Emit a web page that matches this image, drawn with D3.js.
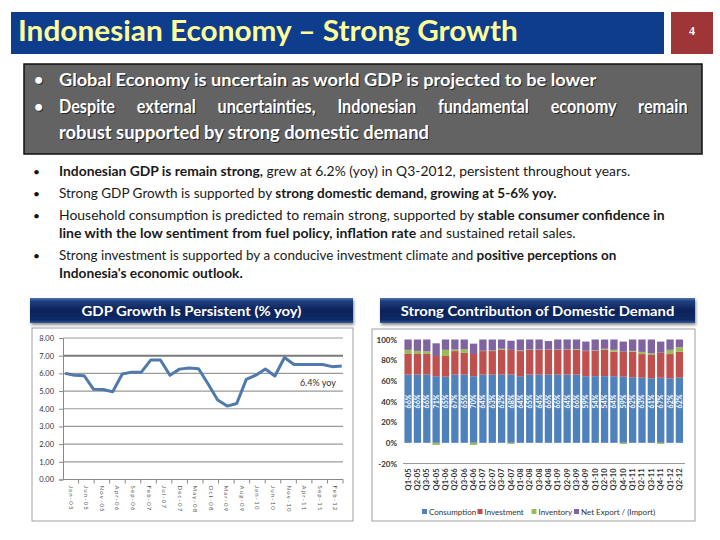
<!DOCTYPE html>
<html><head><meta charset="utf-8">
<script src="https://cdn.jsdelivr.net/npm/d3@7"></script>
<style>html,body{margin:0;padding:0;background:#fff;} svg{display:block;}</style>
</head><body>
<svg id="c" width="720" height="540"></svg>
<script>
// ---------------- DATA ----------------
const quarters = ["Q1-05","Q2-05","Q3-05","Q4-05","Q1-06","Q2-06","Q3-06","Q4-06","Q1-07","Q2-07","Q3-07","Q4-07",
  "Q1-08","Q2-08","Q3-08","Q4-08","Q1-09","Q2-09","Q3-09","Q4-09","Q1-10","Q2-10","Q3-10","Q4-10",
  "Q1-11","Q2-11","Q3-11","Q4-11","Q1-12","Q2-12"];
const gdpGrowth = [6.00,5.89,5.87,5.10,5.09,4.96,5.96,6.07,6.07,6.76,6.76,5.89,6.24,6.30,6.26,5.40,
  4.50,4.15,4.30,5.66,5.90,6.25,5.85,6.90,6.50,6.50,6.50,6.50,6.38,6.42];
const lineTickLabels = ["Jan-05","Jun-05","Nov-05","Apr-06","Sep-06","Feb-07","Jul-07","Dec-07","May-08",
  "Oct-08","Mar-09","Aug-09","Jan-10","Jun-10","Nov-10","Apr-11","Sep-11","Feb-12"];
const gdpTicks = [0,1,2,3,4,5,6,7,8];

const consumption = [66,66,66,64.5,64,66,66,64.5,66,66,66,66,64.5,66,66,66,66,66,66,64.5,64.5,64.5,64.5,64,63.5,63,62.5,63,62.5,63];
const investment  = [20,20,20,19.5,20,22.8,21,21.5,22.8,22.8,24,24,24.3,24,24,24,24,24,24,24.3,24.7,25.5,23.7,24.2,24.7,22.9,22.5,24.2,23.4,25.2];
const inventory   = [4,3,2.5,-2,6,1.5,3.5,-2,0.3,0.5,1,-1,0.7,0.3,0.3,0.2,0.3,0.3,0.8,0.3,0.3,1,1.8,-1,0.8,2.1,1.6,-1,4.1,4.3];
const netExport   = [10,11,11.5,12.3,10,9.7,9.5,10,10.9,10.7,9,8.8,10.5,9.7,9.7,8.3,9.7,9.7,9.2,8.9,10.5,9,10,9.8,11,12,13.4,10.8,10,7.5];
const barLabels = ["66%","66%","66%","71%","65%","67%","65%","70%","64%","63%","62%","68%","64%","65%","64%","66%",
  "66%","64%","66%","59%","54%","54%","64%","59%","62%","63%","61%","67%","62%","62%"];
const shareTicks = [-20,0,20,40,60,80,100];
const seriesNames = ["Consumption","Investment","Inventory","Net Export / (Import)"];
const seriesColors = ["#4F81BD","#C0504D","#9BBB59","#8064A2"];

const FONT = "Lato, 'Open Sans', sans-serif";
const svg = d3.select("#c");
const defs = svg.append("defs");

function fit(sel, x, target){
  const w = sel.node().getComputedTextLength();
  sel.attr("transform", `translate(${x},0) scale(${target/w},1) translate(${-x},0)`);
}
function fitCenter(sel, cx, target){
  const w = sel.node().getComputedTextLength();
  sel.attr("transform", `translate(${cx},0) scale(${target/w},1) translate(${-cx},0)`);
}

// ---------------- HEADER ----------------
svg.append("rect").attr("x",11).attr("y",12).attr("width",653).attr("height",42).attr("fill","#0E3D8E");
svg.append("rect").attr("x",671).attr("y",12).attr("width",42).attr("height",42).attr("fill","#9E3537");
svg.append("text").attr("x",692).attr("y",35).attr("text-anchor","middle").attr("font-family","'Liberation Serif', serif")
  .attr("font-size",12).attr("font-weight","bold").attr("fill","#fff").text("4");
const title = svg.append("text").attr("x",18).attr("y",41).attr("font-family",FONT).attr("font-size",28)
  .attr("font-weight","bold").attr("fill","#FFFF99").text("Indonesian Economy \u2013 Strong Growth");
fit(title,18,500);

// grey box
svg.append("rect").attr("x",24).attr("y",64).attr("width",678).attr("height",90).attr("fill","#636363")
  .attr("stroke","#111").attr("stroke-width",1.5);
const greyLines = [
  {b:true,  y:86,  t:"Global Economy is uncertain as world GDP is projected to be lower", w:538},
  {b:true,  y:113, t:"Despite external uncertainties, Indonesian fundamental economy remain", w:629, justify:true},
  {b:false, y:139, t:"robust supported by strong domestic demand", w:370}
];
greyLines.forEach(l=>{
  [["#2a2a2a",1],["#fff",0]].forEach(([col,off])=>{
    if(l.b) svg.append("text").attr("x",34+off).attr("y",l.y+off-1).attr("font-family",FONT).attr("font-size",16)
      .attr("font-weight","bold").attr("fill",col).text("\u2022");
    const t = svg.append("text").attr("x",59+off).attr("y",l.y+off).attr("font-family",FONT).attr("font-size",18)
      .attr("font-weight","bold").attr("fill",col).text(l.t);
    if(l.justify){
      const w = t.node().getComputedTextLength();
      const spaces = l.t.split(" ").length-1;
      // keep glyphs a bit condensed, spread words
      t.attr("transform",`translate(${59+off},0) scale(0.9,1) translate(${-(59+off)},0)`);
      t.attr("word-spacing", ((l.w/0.9) - w)/spaces);
    } else fit(t,59+off,l.w);
  });
});

// bullet list
const bullets = [
  {y:176, dot:true, w:572, parts:[["Indonesian GDP is remain strong,",1],[" grew at 6.2% (yoy) in Q3-2012, persistent throughout years.",0]]},
  {y:198, dot:true, w:498, parts:[["Strong GDP Growth is supported by ",0],["strong domestic demand, growing at 5-6% yoy.",1]]},
  {y:220, dot:true, w:606, parts:[["Household consumption is predicted to remain strong, supported by ",0],["stable consumer confidence in",1]]},
  {y:238, dot:false, w:517, parts:[["line with the low sentiment from fuel policy, inflation rate",1],[" and sustained retail sales.",0]]},
  {y:260, dot:true, w:558, parts:[["Strong investment is supported by a conducive investment climate and ",0],["positive perceptions on",1]]},
  {y:278, dot:false, w:184, parts:[["Indonesia's economic outlook.",1]]}
];
bullets.forEach(b=>{
  if(b.dot) svg.append("text").attr("x",33).attr("y",b.y).attr("font-family",FONT).attr("font-size",12).attr("fill","#111").text("\u2022");
  const t = svg.append("text").attr("x",59).attr("y",b.y).attr("font-family",FONT).attr("font-size",12.5).attr("fill","#1a1a1a");
  b.parts.forEach(p=>t.append("tspan").attr("font-weight",p[1]?"bold":"normal").text(p[0]));
  fit(t,59,b.w);
});

// ---------------- BANNERS ----------------
const g = defs.append("linearGradient").attr("id","ban").attr("x1",0).attr("y1",0).attr("x2",0).attr("y2",1);
[["0%","#5575b0"],["12%","#203f80"],["50%","#0b2259"],["88%","#102b68"],["100%","#3a5a98"]].forEach(s=>
  g.append("stop").attr("offset",s[0]).attr("stop-color",s[1]));
const sh = defs.append("filter").attr("id","sh").attr("x","-5%").attr("y","-20%").attr("width","110%").attr("height","160%");
sh.append("feDropShadow").attr("dx",1).attr("dy",2).attr("stdDeviation",1.5).attr("flood-color","#000").attr("flood-opacity",0.45);

function banner(x,w,text,tw){
  svg.append("rect").attr("x",x).attr("y",298).attr("width",w).attr("height",25).attr("fill","url(#ban)").attr("filter","url(#sh)");
  const cx = x+w/2;
  const t = svg.append("text").attr("x",cx).attr("y",316).attr("text-anchor","middle").attr("font-family",FONT)
    .attr("font-size",13).attr("font-weight","bold").attr("fill","#fff").text(text);
  fitCenter(t,cx,tw);
}
banner(30,323,"GDP Growth Is Persistent (% yoy)",220);
banner(380,315,"Strong Contribution of Domestic Demand",274);

// frames
svg.append("rect").attr("x",32).attr("y",328).attr("width",321).attr("height",193).attr("fill","#fff").attr("stroke","#a0a0a0");
svg.append("rect").attr("x",372).attr("y",329).attr("width",323).attr("height",192).attr("fill","#fff").attr("stroke","#a0a0a0");

// ---------------- LINE CHART ----------------
const xL = d3.scalePoint().domain(quarters).range([65,341.7]);
const yL = d3.scaleLinear().domain([0,8]).range([479.5,338]);
const gl = svg.append("g");
gl.selectAll("line.grid").data(gdpTicks.filter(d=>d>0)).join("line")
  .attr("x1",63).attr("x2",343).attr("y1",d=>yL(d)).attr("y2",d=>yL(d))
  .attr("stroke",d=>d===7?"#7a7a7a":"#9a9a9a").attr("stroke-width",d=>d===7?2:1.2);
const yAx = gl.append("g").attr("transform","translate(63,0)")
  .call(d3.axisLeft(yL).tickValues(gdpTicks).tickFormat(d3.format(".2f")).tickSize(4).tickPadding(5));
yAx.select(".domain").attr("stroke","#888");
yAx.selectAll(".tick line").attr("stroke","#888");
yAx.selectAll("text").attr("font-family",FONT).attr("font-size",7.5).attr("fill","#333");
// x axis
const xLab = d3.scaleBand().domain(lineTickLabels).range([63,343]);
gl.append("line").attr("x1",63).attr("x2",343).attr("y1",yL(0)).attr("y2",yL(0)).attr("stroke","#888");
gl.selectAll("line.xt").data(lineTickLabels).join("line").attr("class","xt")
  .attr("x1",d=>xLab(d)+xLab.bandwidth()).attr("x2",d=>xLab(d)+xLab.bandwidth())
  .attr("y1",yL(0)).attr("y2",yL(0)+4).attr("stroke","#888");
gl.selectAll("text.xl").data(lineTickLabels).join("text").attr("class","xl")
  .attr("transform",d=>`translate(${xLab(d)+xLab.bandwidth()/2-2},${yL(0)+6}) rotate(90)`)
  .attr("font-family",FONT).attr("font-size",6).attr("letter-spacing",1.2).attr("fill","#555").text(d=>d);
gl.append("path").datum(gdpGrowth).attr("fill","none").attr("stroke","#5079AC").attr("stroke-width",3)
  .attr("stroke-linejoin","round")
  .attr("d",d3.line().x((d,i)=>xL(quarters[i])).y(d=>yL(d)));
gl.append("text").attr("x",300).attr("y",386).attr("font-family",FONT).attr("font-size",9).attr("fill","#333").text("6.4% yoy");

// ---------------- STACKED BAR ----------------
const rows = quarters.map((q,i)=>({q, Consumption:consumption[i], Investment:investment[i], Inventory:inventory[i], "Net Export / (Import)":netExport[i]}));
const stack = d3.stack().keys(seriesNames).offset(d3.stackOffsetDiverging)(rows);
const xB = d3.scaleBand().domain(quarters).range([403.5,684]).paddingInner(0.22).paddingOuter(0.1);
const yB = d3.scaleLinear().domain([-20,100]).range([463.5,339.5]);
const gb = svg.append("g");
const yAxB = gb.append("g").attr("transform","translate(401,0)")
  .call(d3.axisLeft(yB).tickValues(shareTicks).tickFormat(d=>d+"%").tickSize(0).tickPadding(4));
yAxB.select(".domain").remove();
yAxB.selectAll("text").attr("font-family",FONT).attr("font-size",8).attr("font-weight","bold").attr("fill","#333");
gb.append("line").attr("x1",403).attr("x2",685).attr("y1",yB(-20)).attr("y2",yB(-20)).attr("stroke","#999");
stack.forEach((s,k)=>{
  gb.append("g").attr("fill",seriesColors[k]).selectAll("rect").data(s).join("rect")
    .attr("x",d=>xB(d.data.q)).attr("width",xB.bandwidth())
    .attr("y",d=>yB(Math.max(d[0],d[1]))).attr("height",d=>Math.abs(yB(d[0])-yB(d[1])));
});
gb.selectAll("text.bl").data(quarters).join("text").attr("class","bl")
  .attr("transform",(q,i)=>`translate(${xB(q)+xB.bandwidth()/2+2.5},${yB(40)}) rotate(-90)`)
  .attr("text-anchor","middle").attr("font-family",FONT).attr("font-size",7).attr("font-weight","bold")
  .attr("fill","#fff").text((q,i)=>barLabels[i]);
gb.selectAll("text.xq").data(quarters).join("text").attr("class","xq")
  .attr("transform",q=>`translate(${xB(q)+xB.bandwidth()/2+2.5},${yB(-20)+5}) rotate(-90)`)
  .attr("text-anchor","end").attr("font-family",FONT).attr("font-size",7.5).attr("font-weight","bold")
  .attr("fill","#333").text(q=>q);
// legend
const legX = [422,477.5,531.5,574];
seriesNames.forEach((n,k)=>{
  svg.append("rect").attr("x",legX[k]).attr("y",509).attr("width",5).attr("height",5).attr("fill",seriesColors[k]);
  svg.append("text").attr("x",legX[k]+7).attr("y",515).attr("font-family",FONT).attr("font-size",8)
    .attr("fill","#333").text(n);
});
</script>
</body></html>
